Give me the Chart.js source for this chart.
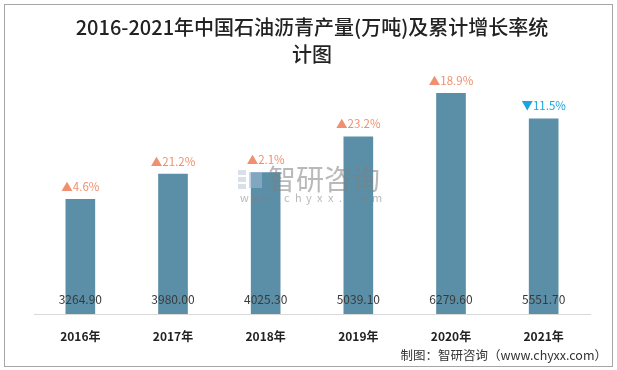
<!DOCTYPE html>
<html>
<head>
<meta charset="utf-8">
<script src="https://cdn.jsdelivr.net/npm/chart.js@4"></script>
<style>
    html, body { margin: 0; padding: 0; background: #fff; }
    #wrap { position: relative; width: 617px; height: 370px; }
    #frame { position: absolute; left: 4px; top: 4px; width: 607px; height: 361px; border: 1px solid #a6a6a6; pointer-events: none; }
</style>
</head>
<body>
<div id="wrap">
    <canvas id="chart" width="617" height="370"></canvas>
    <div id="frame"></div>
</div>
<script>
// Data
const years = ['2016年', '2017年', '2018年', '2019年', '2020年', '2021年'];
const output = [3264.90, 3980.00, 4025.30, 5039.10, 6279.60, 5551.70];
const growth = [4.6, 21.2, 2.1, 23.2, 18.9, -11.5];

const barColor = '#5b8fa7';
const upColor = '#f0906e';
const downColor = '#1aa4e0';
const cjk = '"Noto Sans CJK SC", "Noto Sans", sans-serif';

// Value labels inside bars + growth labels above bars
const labelPlugin = {
    id: 'barLabels',
    afterDatasetsDraw(chart) {
        const ctx = chart.ctx;
        const meta = chart.getDatasetMeta(0);
        const bottom = chart.chartArea.bottom;
        ctx.save();
        ctx.textAlign = 'center';
        ctx.textBaseline = 'middle';
        meta.data.forEach((bar, i) => {
            ctx.font = '12px ' + cjk;
            ctx.fillStyle = '#3a3a3a';
            ctx.fillText(output[i].toFixed(2), bar.x, bottom - 15);

            const g = growth[i];
            const txt = (g >= 0 ? '▲' : '▼') + Math.abs(g).toFixed(1) + '%';
            ctx.font = '11.5px ' + cjk;
            ctx.fillStyle = g >= 0 ? upColor : downColor;
            ctx.fillText(txt, bar.x, bar.y - 13);
        });
        ctx.restore();
    }
};

// Watermark and source note
const notePlugin = {
    id: 'notes',
    afterDraw(chart) {
        const ctx = chart.ctx;
        ctx.save();
        // watermark
        ctx.globalAlpha = 0.55;
        ctx.fillStyle = '#b9c7d8';
        ctx.fillRect(238, 170, 8, 5);
        ctx.fillRect(238, 177, 8, 5);
        ctx.fillRect(238, 184, 8, 5);
        ctx.fillStyle = '#9fb9d6';
        ctx.fillRect(249, 172, 13, 16);
        ctx.fillStyle = '#7f7f7f';
        ctx.font = '28px ' + cjk;
        ctx.textAlign = 'left';
        ctx.textBaseline = 'middle';
        ctx.fillText('智研咨询', 268, 179);
        ctx.font = '11px ' + cjk;
        const site = 'www.chyxx.com';
        for (let i = 0; i < site.length; i++) {
            ctx.fillText(site[i], 240 + i * 11, 198);
        }
        ctx.globalAlpha = 1;
        // source
        ctx.fillStyle = '#333';
        ctx.font = '12.5px ' + cjk;
        ctx.textAlign = 'right';
        ctx.fillText('制图：智研咨询（www.chyxx.com）', 607, 355);
        ctx.restore();
    }
};

new Chart(document.getElementById('chart'), {
    type: 'bar',
    data: {
        labels: years,
        datasets: [{
            data: output,
            backgroundColor: barColor,
            borderWidth: 0,
            barThickness: 29
        }]
    },
    options: {
        responsive: false,
        animation: false,
        layout: { padding: { left: 34, right: 27, top: 0, bottom: 0 } },
        plugins: {
            legend: { display: false },
            tooltip: { enabled: false },
            title: {
                display: true,
                text: ['2016-2021年中国石油沥青产量(万吨)及累计增长率统', '计图'],
                color: '#222',
                font: { family: cjk, size: 20, weight: 500, lineHeight: 1.35 },
                padding: { top: 14, bottom: 0 }
            }
        },
        scales: {
            x: {
                grid: { display: false, drawTicks: false },
                border: { display: true, color: '#d9d9d9', width: 1 },
                ticks: { color: '#222', font: { family: cjk, size: 12, weight: 'bold' }, padding: 15 },
                afterFit(scale) { scale.height = 56; }
            },
            y: {
                display: false,
                min: 0,
                max: 7000
            }
        }
    },
    plugins: [labelPlugin, notePlugin]
});
</script>
</body>
</html>
